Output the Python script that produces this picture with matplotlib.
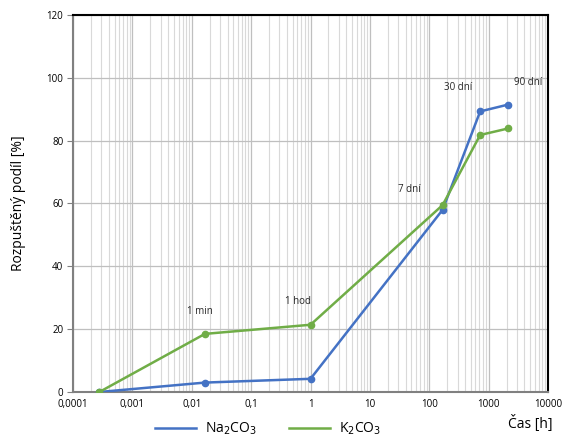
import matplotlib
matplotlib.use("Agg")
import matplotlib.pyplot as plt
from matplotlib.ticker import LogLocator, NullFormatter
from matplotlib.lines import Line2D

plt.rcParams['font.family'] = ['Open Sans', 'DejaVu Sans']

time_h = [1/3600, 1/60, 1, 168, 720, 2160]
na2co3 = [0, 3, 4.2, 58, 89.3, 91.5]
k2co3 = [0, 18.5, 21.4, 59.5, 81.8, 83.9]
x_ticks = [1e-4, 1e-3, 1e-2, 1e-1, 1, 10, 100, 1000, 10000]
x_labels = ["0,0001", "0,001", "0,01", "0,1", "1", "10", "100", "1000", "10000"]
y_ticks = [0, 20, 40, 60, 80, 100, 120]
annotations = [("1 min", 0.0137, 25.5), ("1 hod", 0.61, 28.7), ("7 dní", 47, 64.3), ("30 dní", 302, 96.8), ("90 dní", 4570, 98.4)]

fig = plt.figure(figsize=(5.73, 4.41), dpi=100)
ax = fig.add_axes([0.1274, 0.1111, 0.829, 0.855])

blue = '#4472C4'
green = '#70AD47'
ax.plot(time_h, na2co3, color=blue, lw=1.8, marker='o', ms=4.5, zorder=3)
ax.plot(time_h, k2co3, color=green, lw=1.8, marker='o', ms=4.5, zorder=4)

ax.set_xscale('log')
ax.set_xlim(1e-4, 1e4)
ax.set_ylim(0, 120)
ax.set_xticks(x_ticks)
ax.set_xticklabels(x_labels)
ax.xaxis.set_minor_locator(LogLocator(base=10, subs=range(2, 10), numticks=100))
ax.xaxis.set_minor_formatter(NullFormatter())
ax.set_yticks(y_ticks)

ax.grid(which='major', axis='both', color='#BFBFBF', lw=0.9, zorder=0)
ax.grid(which='minor', axis='x', color='#D9D9D9', lw=0.8, zorder=0)
ax.set_axisbelow(True)

for s in ['top', 'right']:
    ax.spines[s].set_color('black')
    ax.spines[s].set_linewidth(1.5)
for s in ['left', 'bottom']:
    ax.spines[s].set_color('#808080')
    ax.spines[s].set_linewidth(1.5)

ax.tick_params(axis='both', which='major', labelsize=7, colors='#808080', length=4, width=0.8, labelcolor='black')
ax.tick_params(axis='x', which='minor', length=0)
ax.tick_params(axis='y', which='major', direction='out', pad=3)
ax.tick_params(axis='x', which='major', length=0, pad=5)

for txt, x, y in annotations:
    ax.text(x, y, txt, fontsize=7, ha='center', va='center', color='#262626')

ax.set_ylabel('Rozpuštěný podíl [%]', fontsize=10, labelpad=15)
fig.text(0.926, 0.02, 'Čas [h]', fontsize=10, ha='center', va='bottom')

handles = [Line2D([], [], color=blue, lw=1.8), Line2D([], [], color=green, lw=1.8)]
ax.legend(handles, ['Na$_2$CO$_3$', 'K$_2$CO$_3$'], loc='lower center',
          bbox_to_anchor=(0.41, -0.142), ncol=2, frameon=False,
          fontsize=10, handlelength=3.0, columnspacing=2.3, handletextpad=0.6,
          borderpad=0.1)

fig.savefig('out.png', dpi=100)
